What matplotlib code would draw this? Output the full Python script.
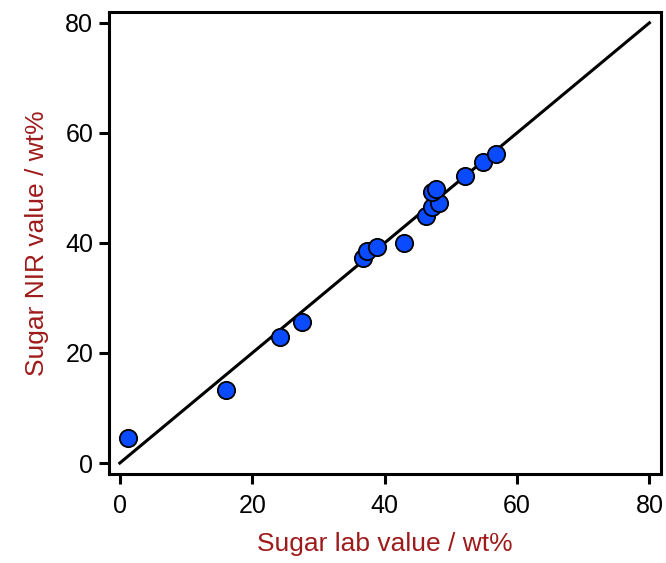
import numpy as np
import matplotlib.pyplot as plt

plt.rcParams['font.family'] = ['Liberation Sans', 'DejaVu Sans']

# lab reference vs. NIR prediction (wt%)
lab_value = [1.2, 16.1, 24.2, 27.5, 36.8, 37.3, 38.9, 43.0, 46.2, 47.1,
             48.2, 47.1, 47.8, 52.1, 54.9, 56.9]
nir_value = [4.5, 13.3, 22.9, 25.6, 37.2, 38.5, 39.2, 40.0, 44.9, 46.6,
             47.3, 49.3, 49.8, 52.2, 54.7, 56.2]
ideal_line = [0, 80]
ticks = [0, 20, 40, 60, 80]

label_color = '#9e1b1b'

fig = plt.figure(figsize=(6.66, 5.63), dpi=100)
ax = fig.add_axes([0.164, 0.158, 0.828, 0.821])

ax.plot(ideal_line, ideal_line, color='black', lw=2.2, zorder=2)
ax.scatter(lab_value, nir_value, s=155, color='#0a4bff', edgecolor='black',
           linewidth=1.3, zorder=3)

ax.set_xlim(-1.6, 81.7)
ax.set_ylim(-2.0, 82)
ax.set_xticks(ticks)
ax.set_yticks(ticks)

for side in ax.spines.values():
    side.set_linewidth(2.2)

ax.tick_params(axis='both', direction='out', length=7.5, width=2.2,
               labelsize=18, colors='black')
ax.tick_params(axis='x', pad=7)
ax.tick_params(axis='y', pad=4)

ax.set_xlabel('Sugar lab value / wt%', color=label_color, fontsize=19,
              labelpad=10)
ax.set_ylabel('Sugar NIR value / wt%', color=label_color, fontsize=19,
              labelpad=12)

fig.savefig('out.png', dpi=100)
